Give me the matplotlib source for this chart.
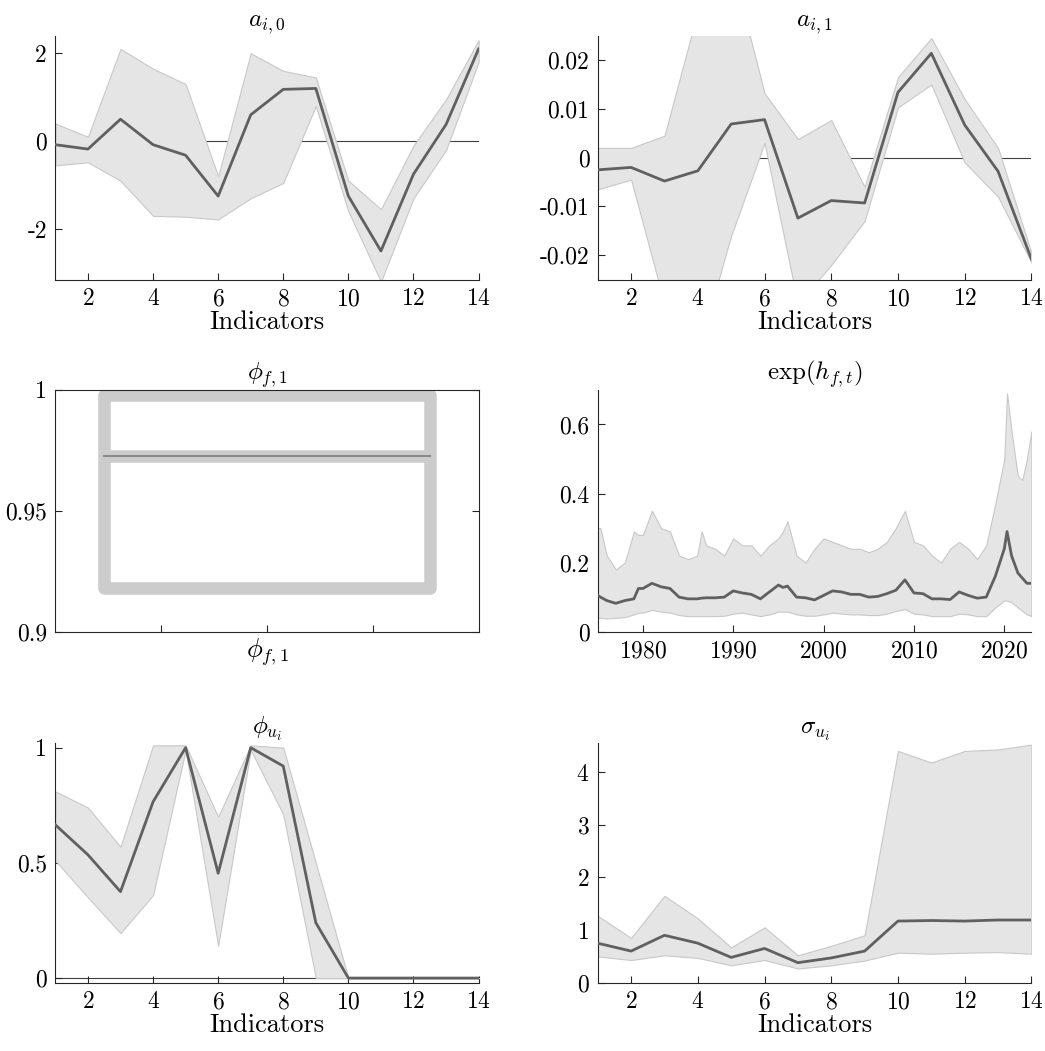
import numpy as np
import matplotlib
matplotlib.use("Agg")
import matplotlib.pyplot as plt
from matplotlib.patches import Rectangle

plt.rcParams['font.family'] = 'serif'
plt.rcParams['font.serif'] = ['cmr10']
plt.rcParams['mathtext.fontset'] = 'cm'
plt.rcParams['axes.unicode_minus'] = False
plt.rcParams['axes.formatter.use_mathtext'] = True
plt.rcParams['font.size'] = 17

indicators = np.arange(1, 15)

a0_mid = [-0.08, -0.18, 0.5, -0.08, -0.32, -1.25, 0.6, 1.18, 1.2, -1.25, -2.5, -0.75, 0.38, 2.1]
a0_lo = [-0.55, -0.48, -0.9, -1.7, -1.72, -1.78, -1.3, -0.95, 0.8, -1.6, -3.2, -1.3, -0.2, 1.8]
a0_hi = [0.4, 0.1, 2.1, 1.65, 1.3, -0.8, 2.0, 1.6, 1.45, -0.9, -1.55, -0.1, 0.95, 2.3]

a1_mid = [-0.0025, -0.002, -0.0048, -0.0027, 0.0069, 0.0078, -0.0124, -0.0088, -0.0093, 0.0134, 0.0214, 0.0067, -0.0028, -0.0208]
a1_lo = [-0.0065, -0.0045, -0.03, -0.04, -0.016, 0.003, -0.03, -0.022, -0.013, 0.0103, 0.015, -0.001, -0.008, -0.0215]
a1_hi = [0.002, 0.002, 0.0045, 0.03, 0.04, 0.0132, 0.0038, 0.0077, -0.006, 0.0165, 0.0245, 0.012, 0.002, -0.0195]

phif_lo, phif_mid, phif_hi = 0.918, 0.9725, 0.998

years = [1975, 1975.3, 1976, 1977, 1978, 1979, 1979.5, 1980, 1981, 1982, 1983, 1984, 1985, 1986,
         1986.5, 1987, 1988, 1989, 1990, 1991, 1992, 1993, 1994, 1995, 1995.5, 1996, 1997, 1998,
         1999, 2000, 2001, 2002, 2003, 2004, 2005, 2006, 2007, 2008, 2009, 2010, 2011, 2012, 2013,
         2014, 2015, 2016, 2017, 2018, 2019, 2020, 2020.3, 2020.8, 2021.5, 2022, 2022.5, 2023]
h_mid = [0.105, 0.1, 0.09, 0.082, 0.09, 0.095, 0.125, 0.125, 0.14, 0.13, 0.125, 0.1, 0.095, 0.095,
         0.097, 0.098, 0.098, 0.1, 0.118, 0.112, 0.108, 0.095, 0.115, 0.135, 0.128, 0.132, 0.1, 0.098,
         0.092, 0.105, 0.118, 0.115, 0.108, 0.108, 0.1, 0.102, 0.11, 0.12, 0.15, 0.112, 0.11, 0.095, 0.095,
         0.093, 0.115, 0.105, 0.097, 0.1, 0.16, 0.24, 0.29, 0.22, 0.17, 0.155, 0.14, 0.14]
h_hi = [0.3, 0.3, 0.22, 0.18, 0.2, 0.29, 0.28, 0.28, 0.35, 0.3, 0.29, 0.22, 0.21, 0.22,
        0.29, 0.25, 0.24, 0.22, 0.27, 0.25, 0.25, 0.22, 0.25, 0.27, 0.29, 0.32, 0.22, 0.2,
        0.24, 0.27, 0.26, 0.25, 0.24, 0.24, 0.23, 0.24, 0.26, 0.3, 0.35, 0.26, 0.25, 0.22, 0.2,
        0.24, 0.26, 0.24, 0.21, 0.25, 0.37, 0.5, 0.69, 0.58, 0.45, 0.44, 0.5, 0.58]
h_lo = [0.04, 0.04, 0.038, 0.04, 0.042, 0.05, 0.055, 0.055, 0.063, 0.058, 0.055, 0.048, 0.045, 0.045,
        0.045, 0.045, 0.045, 0.046, 0.052, 0.055, 0.05, 0.045, 0.05, 0.058, 0.058, 0.058, 0.05, 0.046,
        0.046, 0.05, 0.055, 0.052, 0.05, 0.05, 0.048, 0.048, 0.052, 0.06, 0.065, 0.052, 0.05, 0.045, 0.045,
        0.045, 0.052, 0.05, 0.045, 0.045, 0.07, 0.09, 0.09, 0.085, 0.07, 0.06, 0.05, 0.045]

phiu_mid = [0.665, 0.535, 0.375, 0.765, 1.0, 0.455, 1.0, 0.92, 0.24, 0, 0, 0, 0, 0]
phiu_lo = [0.51, 0.35, 0.195, 0.36, 0.99, 0.14, 0.99, 0.71, 0, 0, 0, 0, 0, 0]
phiu_hi = [0.81, 0.74, 0.57, 1.01, 1.01, 0.7, 1.01, 1.0, 0.5, 0.0, 0.0, 0.0, 0.0, 0.0]

sig_mid = [0.75, 0.6, 0.9, 0.75, 0.48, 0.65, 0.38, 0.47, 0.6, 1.17, 1.18, 1.17, 1.19, 1.19]
sig_lo = [0.5, 0.43, 0.52, 0.47, 0.33, 0.43, 0.27, 0.33, 0.42, 0.57, 0.55, 0.57, 0.58, 0.55]
sig_hi = [1.27, 0.85, 1.65, 1.22, 0.67, 1.05, 0.52, 0.7, 0.9, 4.4, 4.18, 4.4, 4.43, 4.52]

FILL = '#e5e5e5'
EDGE = '#c8c8c8'
LINE = '#606060'

fig = plt.figure(figsize=(10.45, 10.51), dpi=100)
cols = [(0.053, 0.405), (0.572, 0.415)]
rows = [(0.734, 0.232), (0.399, 0.230), (0.065, 0.228)]


def make_ax(r, c):
    ax = fig.add_axes([cols[c][0], rows[r][0], cols[c][1], rows[r][1]])
    ax.tick_params(direction='in', length=5, width=0.8, color='#262626', labelsize=17, pad=6)
    for s in ax.spines.values():
        s.set_linewidth(0.8)
        s.set_color('#262626')
    return ax


def band_plot(ax, x, lo, mid, hi, title, zero=True, xlabel='Indicators'):
    if zero:
        # drawn first so the band covers it
        ax.axhline(0, color='#404040', lw=0.8, zorder=1)
    ax.fill_between(x, lo, hi, facecolor=FILL, edgecolor=EDGE, linewidth=0.8, zorder=2)
    ax.plot(x, mid, color=LINE, lw=2, zorder=3)
    ax.spines['top'].set_visible(False)
    ax.spines['right'].set_visible(False)
    ax.set_title(title, fontsize=18, pad=4)
    if xlabel:
        ax.set_xlabel(xlabel, fontsize=19, labelpad=0)


ax = make_ax(0, 0)
band_plot(ax, indicators, a0_lo, a0_mid, a0_hi, r'$a_{i,0}$')
ax.set_xlim(1, 14)
ax.set_ylim(-3.15, 2.4)
ax.set_xticks(range(2, 15, 2))
ax.set_yticks([-2, 0, 2])
ax.set_yticklabels(['-2', '0', '2'])

ax = make_ax(0, 1)
band_plot(ax, indicators, a1_lo, a1_mid, a1_hi, r'$a_{i,1}$')
ax.set_xlim(1, 14)
ax.set_ylim(-0.025, 0.025)
ax.set_xticks(range(2, 15, 2))
ax.set_yticks([-0.02, -0.01, 0, 0.01, 0.02])
ax.set_yticklabels(['-0.02', '-0.01', '0', '0.01', '0.02'])

ax = make_ax(1, 0)
ax.add_patch(Rectangle((0.115, phif_lo), 0.77, phif_hi - phif_lo, facecolor='none',
                       edgecolor='#cccccc', linewidth=9, joinstyle='round'))
ax.plot([0.115, 0.885], [phif_mid, phif_mid], color='#cccccc', lw=9, solid_capstyle='butt')
ax.plot([0.115, 0.885], [phif_mid, phif_mid], color='#8a8a8a', lw=1.5)
ax.set_xlim(0, 1)
ax.set_ylim(0.9, 1.0)
ax.set_xticks([0.25, 0.5, 0.75])
ax.set_xticklabels([])
ax.set_yticks([0.9, 0.95, 1.0])
ax.set_yticklabels(['0.9', '0.95', '1'])
ax.tick_params(right=True, top=False)
ax.set_title(r'$\phi_{f,1}$', fontsize=18, pad=4)
ax.set_xlabel(r'$\phi_{f,1}$', fontsize=19, labelpad=-2)

ax = make_ax(1, 1)
band_plot(ax, years, h_lo, h_mid, h_hi, r'$\exp(h_{f,t})$', zero=False, xlabel=None)
ax.set_xlim(1975, 2023)
ax.set_ylim(0, 0.7)
ax.set_xticks([1980, 1990, 2000, 2010, 2020])
ax.set_yticks([0, 0.2, 0.4, 0.6])
ax.set_yticklabels(['0', '0.2', '0.4', '0.6'])

ax = make_ax(2, 0)
band_plot(ax, indicators, phiu_lo, phiu_mid, phiu_hi, r'$\phi_{u_i}$')
ax.set_xlim(1, 14)
ax.set_ylim(-0.02, 1.02)
ax.set_xticks(range(2, 15, 2))
ax.set_yticks([0, 0.5, 1])
ax.set_yticklabels(['0', '0.5', '1'])

ax = make_ax(2, 1)
band_plot(ax, indicators, sig_lo, sig_mid, sig_hi, r'$\sigma_{u_i}$', zero=False)
ax.set_xlim(1, 14)
ax.set_ylim(0, 4.55)
ax.set_xticks(range(2, 15, 2))
ax.set_yticks([0, 1, 2, 3, 4])

fig.savefig('out.png', dpi=100)
